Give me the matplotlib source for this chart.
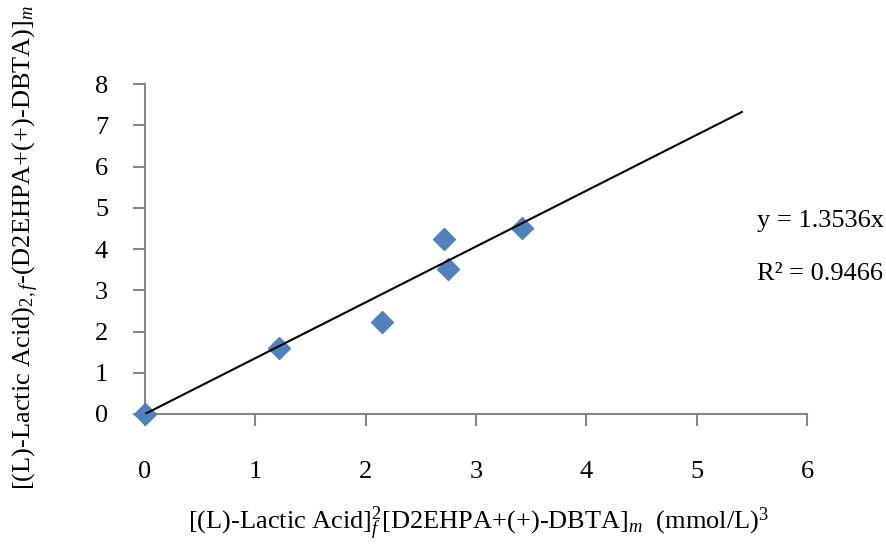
import matplotlib
matplotlib.use("Agg")
import matplotlib.pyplot as plt

# data
x_vals = [0.0, 1.21, 2.15, 2.71, 2.75, 3.42]
y_vals = [0.0, 1.61, 2.24, 4.25, 3.51, 4.52]
slope = 1.3536
r_squared = 0.9466
fit_x = [0.0, 5.41]

x_ticks = [0, 1, 2, 3, 4, 5, 6]
y_ticks = [0, 1, 2, 3, 4, 5, 6, 7, 8]

plt.rcParams['font.family'] = ['Liberation Serif', 'DejaVu Serif']
plt.rcParams['mathtext.fontset'] = 'custom'
plt.rcParams['mathtext.rm'] = 'Liberation Serif'
plt.rcParams['mathtext.it'] = 'Liberation Serif:italic'
plt.rcParams['mathtext.bf'] = 'Liberation Serif:bold'

fig = plt.figure(figsize=(8.87, 5.46), dpi=100)
ax = fig.add_axes([0.1635, 0.2418, 0.7463, 0.6042])

# points and trend line
ax.plot(x_vals, y_vals, linestyle="none", marker="D", markersize=11.5,
        color="#4F81BD", zorder=3, clip_on=False)
fit_y = [slope * v for v in fit_x]
ax.plot(fit_x, fit_y, color="black", linewidth=1.5, zorder=4)

ax.set_xlim(0, 6)
ax.set_ylim(0, 8)
ax.set_xticks(x_ticks)
ax.set_yticks(y_ticks)

for side in ["top", "right"]:
    ax.spines[side].set_visible(False)
for side in ["left", "bottom"]:
    ax.spines[side].set_color("#868686")
    ax.spines[side].set_linewidth(1.5)

ax.tick_params(axis="both", colors="#868686", labelcolor="black",
               labelsize=19, length=8.6, width=1.5, direction="out")
ax.tick_params(axis="x", pad=25)
ax.tick_params(axis="y", pad=18)

# axis titles
fig.text(0.212, 0.03,
         r"[(L)-Lactic Acid]$_{f}^{2}$[D2EHPA+(+)-DBTA]$_{m}$  (mmol/L)$^{3}$",
         ha="left", va="baseline", fontsize=19)
fig.text(0.029, 0.547,
         r"[(L)-Lactic Acid)$_{2,f}$-(D2EHPA+(+)-DBTA)]$_{m}$",
         ha="center", va="center", rotation=90, fontsize=19)

# equation labels
fig.text(0.853, 0.584, "y = 1.3536x", ha="left", va="baseline", fontsize=19)
fig.text(0.853, 0.487, "R² = 0.9466", ha="left", va="baseline", fontsize=19)

fig.savefig("out.png", dpi=100)
